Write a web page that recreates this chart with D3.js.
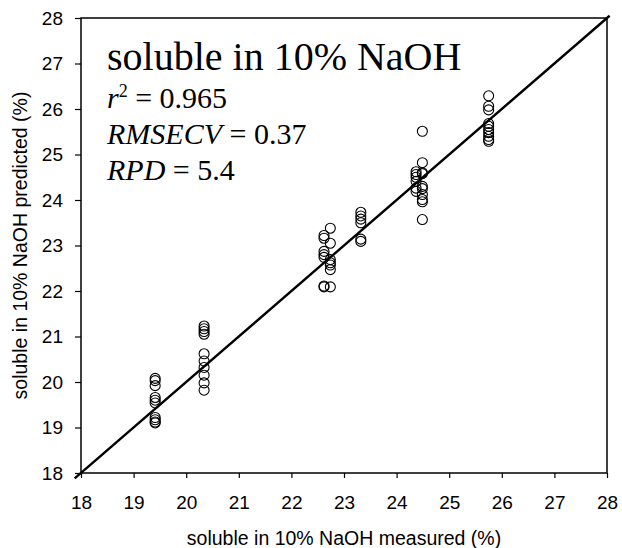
<!DOCTYPE html>
<html>
<head>
<meta charset="utf-8">
<script src="https://cdn.jsdelivr.net/npm/d3@7"></script>
<style>
  body { margin: 0; background: #fff; }
  svg { display: block; }
</style>
</head>
<body>
<div id="chart"></div>
<script>
// measured reference values (x) and the predicted values for each sample (y)
const measured = [19.41, 20.34, 22.62, 22.74, 23.32, 24.37, 24.49, 25.75];
const predicted = [
  [20.08, 20.03, 19.92, 19.66, 19.60, 19.54, 19.22, 19.17, 19.12, 19.10],
  [21.23, 21.17, 21.11, 21.05, 20.62, 20.46, 20.32, 20.15, 19.98, 19.82],
  [23.22, 23.16, 22.87, 22.80, 22.74, 22.11, 22.09],
  [23.38, 23.05, 22.69, 22.62, 22.57, 22.47, 22.09],
  [23.73, 23.65, 23.58, 23.50, 23.14, 23.09],
  [24.62, 24.56, 24.50, 24.41, 24.26, 24.19],
  [25.51, 24.82, 24.60, 24.58, 24.30, 24.25, 24.12, 24.01, 23.96, 23.57],
  [26.29, 26.06, 25.98, 25.68, 25.62, 25.55, 25.48, 25.40, 25.33, 25.29]
];
const ticks = [18, 19, 20, 21, 22, 23, 24, 25, 26, 27, 28];
const stats = [
  {name: "RMSECV", value: "0.37"},
  {name: "RPD", value: "5.4"}
];

const width = 622, height = 548;
const margin = {top: 18, right: 15, bottom: 75, left: 81};

const svg = d3.select("#chart").append("svg")
  .attr("width", width)
  .attr("height", height);

const x = d3.scaleLinear().domain([18, 28]).range([margin.left, width - margin.right]);
const y = d3.scaleLinear().domain([18, 28]).range([height - margin.bottom, margin.top]);

// points
let pts = [];
measured.forEach((m, i) => predicted[i].forEach(p => pts.push([m, p])));

svg.append("g")
  .selectAll("circle")
  .data(pts)
  .enter()
  .append("circle")
    .attr("cx", d => x(d[0]))
    .attr("cy", d => y(d[1]))
    .attr("r", 5)
    .attr("fill", "none")
    .attr("stroke", "#000")
    .attr("stroke-width", 1.1);

// 1:1 line
svg.append("line")
  .attr("x1", x(17.88)).attr("y1", y(17.88))
  .attr("x2", x(28.05)).attr("y2", y(28.05))
  .attr("stroke", "#000")
  .attr("stroke-width", 2.4);

// frame
svg.append("rect")
  .attr("x", x(18)).attr("y", y(28))
  .attr("width", x(28) - x(18)).attr("height", y(18) - y(28))
  .attr("fill", "none")
  .attr("stroke", "#000")
  .attr("stroke-width", 1.5);

const xAxis = svg.append("g")
  .attr("transform", `translate(0,${y(18)})`)
  .call(d3.axisBottom(x).tickValues(ticks).tickFormat(d3.format("d")).tickSize(5).tickSizeOuter(0).tickPadding(18));

const yAxis = svg.append("g")
  .attr("transform", `translate(${x(18)},0)`)
  .call(d3.axisLeft(y).tickValues(ticks).tickFormat(d3.format("d")).tickSize(6).tickSizeOuter(0).tickPadding(12));

[xAxis, yAxis].forEach(g => {
  g.select(".domain").remove();
  g.selectAll("line").attr("stroke", "#000").attr("stroke-width", 1.2);
  g.selectAll("text")
    .attr("fill", "#000")
    .style("font-family", "Liberation Sans, Arial, sans-serif")
    .style("font-size", "19px");
});

// axis titles
svg.append("text")
  .attr("x", (x(18) + x(28)) / 2)
  .attr("y", 545)
  .attr("text-anchor", "middle")
  .style("font-family", "Liberation Sans, Arial, sans-serif")
  .style("font-size", "19.5px")
  .text("soluble in 10% NaOH measured (%)");

svg.append("text")
  .attr("transform", `translate(27,${(y(18) + y(28)) / 2}) rotate(-90)`)
  .attr("text-anchor", "middle")
  .style("font-family", "Liberation Sans, Arial, sans-serif")
  .style("font-size", "19.5px")
  .text("soluble in 10% NaOH predicted (%)");

// annotation
const note = svg.append("g")
  .style("font-family", "Liberation Serif, Times New Roman, serif")
  .attr("fill", "#000");

note.append("text")
  .attr("x", 107).attr("y", 70)
  .style("font-size", "40px")
  .text("soluble in 10% NaOH");

const r2 = note.append("text")
  .attr("x", 107).attr("y", 108)
  .style("font-size", "30px");
r2.append("tspan").style("font-style", "italic").text("r");
r2.append("tspan").attr("dy", -11).style("font-size", "18px").text("2");
r2.append("tspan").attr("dy", 11).text(" = 0.965");

stats.forEach((s, i) => {
  const t = note.append("text")
    .attr("x", 107).attr("y", 144 + i * 36)
    .style("font-size", "30px");
  t.append("tspan").style("font-style", "italic").text(s.name);
  t.append("tspan").text(" = " + s.value);
});
</script>
</body>
</html>
